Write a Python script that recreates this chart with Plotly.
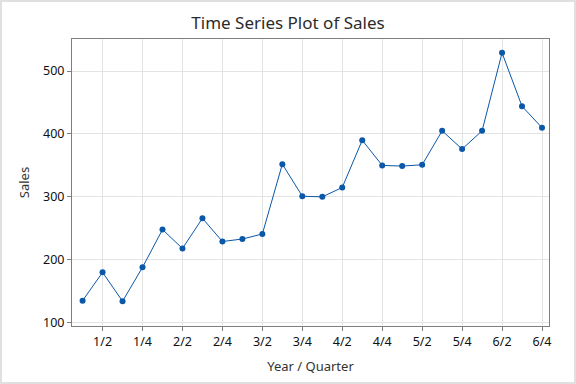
import plotly.graph_objects as go

index = list(range(1, 25))
sales = [135, 180, 134, 188, 248, 218, 266, 229, 233, 241, 352, 301,
         300, 315, 390, 350, 349, 351, 405, 376, 405, 529, 444, 410]
tick_vals = [2, 4, 6, 8, 10, 12, 14, 16, 18, 20, 22, 24]
tick_text = ["1/2", "1/4", "2/2", "2/4", "3/2", "3/4", "4/2", "4/4", "5/2", "5/4", "6/2", "6/4"]
y_ticks = [100, 200, 300, 400, 500]

blue = "#0B57A8"
font_family = "Noto Sans, Open Sans, DejaVu Sans, sans-serif"

fig = go.Figure()
fig.add_trace(go.Scatter(
    x=index, y=sales, mode="lines+markers",
    line=dict(color=blue, width=1),
    marker=dict(color=blue, size=6),
    showlegend=False,
))

W, H = 576, 384
ml, mr, mt, mb = 72, 27, 39, 58
pw, ph = W - ml - mr, H - mt - mb

fig.update_layout(
    width=W, height=H,
    margin=dict(l=ml, r=mr, t=mt, b=mb),
    paper_bgcolor="white", plot_bgcolor="white",
    font=dict(family=font_family, size=12, color="#111111"),
    title=dict(text="Time Series Plot of Sales", x=0.5, xanchor="center",
               y=1 - 23 / H, yanchor="middle",
               font=dict(size=17, color="#2b2b2b", family=font_family)),
    xaxis=dict(
        range=[0.47, 24.35], tickmode="array", tickvals=tick_vals, ticktext=tick_text,
        showgrid=True, gridcolor="#E3E3E3", gridwidth=1,
        showline=True, linecolor="#7F7F7F", linewidth=1, mirror=True,
        ticks="outside", ticklen=4, tickcolor="#7F7F7F", zeroline=False,
        title=dict(text="Year / Quarter", font=dict(size=13, color="#333333"), standoff=12),
        tickfont=dict(size=12.5, color="#111111"),
    ),
    yaxis=dict(
        range=[94.7, 551], tickvals=y_ticks,
        showgrid=True, gridcolor="#E3E3E3", gridwidth=1,
        showline=True, linecolor="#7F7F7F", linewidth=1, mirror=True,
        ticks="outside", ticklen=4, tickcolor="#7F7F7F", zeroline=False,
        title=dict(text="Sales", font=dict(size=13, color="#333333"), standoff=10),
        tickfont=dict(size=12.5, color="#111111"),
    ),
)

# light frame around the whole figure
fig.add_shape(type="rect", xref="paper", yref="paper",
              x0=(1 - ml) / pw, x1=(W - 1 - ml) / pw,
              y0=-(mb - 1) / ph, y1=1 + (mt - 1) / ph,
              line=dict(color="#E0E0E0", width=2), fillcolor="rgba(0,0,0,0)", layer="below")

fig.write_html("out.html", config={"displayModeBar": False},
               post_script="document.body.style.margin='0';document.body.style.overflow='hidden';")
